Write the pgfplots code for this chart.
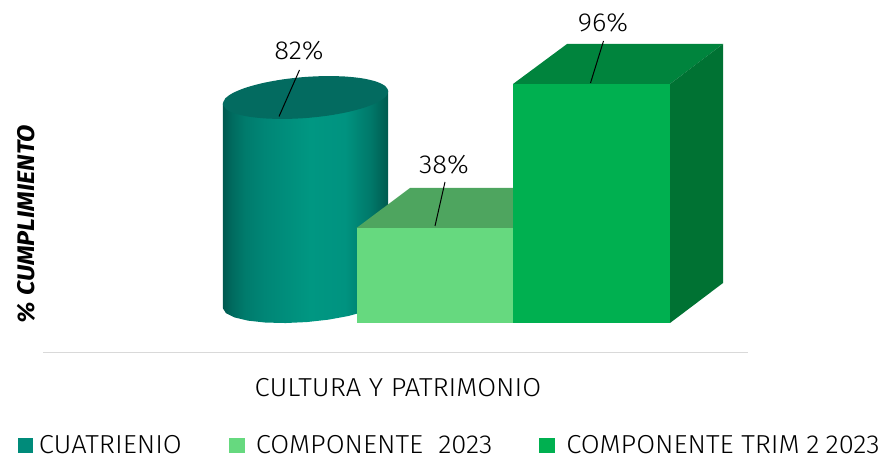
\documentclass[border=0pt]{standalone}
\usepackage{fontspec}
\setmainfont{Fira Sans}[UprightFont=* Light,BoldItalicFont=* Bold Italic,FakeStretch=1.053]
\usepackage{pgfplots}
\pgfplotsset{compat=1.18}
\definecolor{ca}{HTML}{00594F}\definecolor{cb}{HTML}{006B5F}\definecolor{cc}{HTML}{007B6C}
\definecolor{cd}{HTML}{008676}\definecolor{ce}{HTML}{009782}\definecolor{cf}{HTML}{009380}
\definecolor{cg}{HTML}{00796A}\definecolor{ch}{HTML}{005A4F}
\definecolor{cyltop}{HTML}{036B60}\definecolor{cyllegend}{HTML}{008B7A}
\definecolor{lfront}{HTML}{66D97F}\definecolor{ltop}{HTML}{4EA55F}
\definecolor{gfront}{HTML}{00B050}\definecolor{gtop}{HTML}{00843D}\definecolor{gside}{HTML}{007233}
\pgfdeclarehorizontalshading{cylbody}{100bp}{color(0bp)=(ca);color(25bp)=(ca);color(27.8bp)=(cb);color(31.7bp)=(cc);color(37.7bp)=(cd);color(51.4bp)=(ce);color(61.9bp)=(cf);color(69.5bp)=(cg);color(75bp)=(ch);color(100bp)=(ch)}
\newcommand{\fs}{\fontsize{26}{30}\selectfont}
\pgfplotsset{px/.style={forget plot,draw=none}}
\begin{document}
\begin{tikzpicture}
\begin{axis}[
  width=883pt,height=458pt,scale only axis,
  xmin=0,xmax=883,ymin=-54.2169,ymax=129.7189,
  axis line style={draw=none},ticks=none,clip=false,
  xlabel={\fs CULTURA Y PATRIMONIO},
  xlabel style={at={(axis description cs:0.4507,0.1528)},anchor=center,inner sep=0pt},
  ylabel={\fontsize{24}{28}\selectfont\bfseries\itshape \% CUMPLIMIENTO},
  ylabel style={at={(axis description cs:0.02944,0.5109)},anchor=center,inner sep=0pt},
  legend columns=3,
  legend style={at={(axis description cs:0.0204,0.0273)},anchor=west,draw=none,fill=none,inner sep=0pt,outer sep=0pt,
    font=\fs,/tikz/every even column/.append style={column sep=47pt},
    /tikz/every odd column/.append style={column sep=0pt},
    nodes={inner sep=0pt,outer sep=0pt}},
  legend cell align=left,
]
% base line
\addplot[forget plot,color=black!15,line width=1.6pt] table[x=x,y expr=(323-\thisrow{y})/2.49]{
x y
43 352.5
748 352.5
};
% cylinder body (value 82)
\addplot[px,shade,shading=cylbody] table[x=x,y expr=(323-\thisrow{y})/2.49]{
x y
222.76 104.02
388.24 90.98
388.24 295.08
385.84 300.59
377.96 306.17
365.14 311.44
348.26 316.04
328.49 319.65
307.11 322.04
285.63 323.03
265.52 322.56
248.14 320.66
234.65 317.47
226.00 313.19
222.76 308.12
222.76 104.02
};
% cylinder top
\addplot[px,fill=cyltop,smooth] table[x=x,y expr=(323-\thisrow{y})/2.49]{
x y
222.76 104.02
226.00 109.09
234.65 113.37
248.14 116.56
265.52 118.46
285.63 118.93
307.11 117.94
328.49 115.55
348.26 111.94
365.14 107.34
377.96 102.07
385.84 96.49
388.24 90.98
385.00 85.91
376.35 81.63
362.86 78.44
345.48 76.54
325.37 76.07
303.89 77.06
282.51 79.45
262.74 83.06
245.86 87.66
233.04 92.93
225.16 98.51
222.76 104.02
};
% light box top
\addplot[px,fill=ltop] table[x=x,y expr=(323-\thisrow{y})/2.49]{
x y
356.5 228
410 188
513 188
513 228
356.5 228
};
\addplot[forget plot,ybar,bar shift=0pt,bar width=156.5,fill=lfront,draw=none] coordinates {(434.75,38)};
% dark box top and side
\addplot[px,fill=gtop] table[x=x,y expr=(323-\thisrow{y})/2.49]{
x y
513 84
567 44
723 44
670 84
513 84
};
\addplot[px,fill=gside] table[x=x,y expr=(323-\thisrow{y})/2.49]{
x y
670 84
723 44
723 283
670 323
670 84
};
\addplot[forget plot,ybar,bar shift=0pt,bar width=157,fill=gfront,draw=none] coordinates {(591.5,96)};
% leader lines
\addplot[forget plot,black,line width=1pt] table[x=x,y expr=(323-\thisrow{y})/2.49]{
x y
299.5 70
279 116.5
};
\addplot[forget plot,black,line width=1pt] table[x=x,y expr=(323-\thisrow{y})/2.49]{
x y
445 182
435 226
};
\addplot[forget plot,black,line width=1pt] table[x=x,y expr=(323-\thisrow{y})/2.49]{
x y
603.5 41
590.5 83
};
\node[font=\fs,inner sep=0pt] at (axis cs:299,109.2) {82\%};
\node[font=\fs,inner sep=0pt] at (axis cs:444,63.5) {38\%};
\node[font=\fs,inner sep=0pt] at (axis cs:603,120.5) {96\%};
% legend
\addlegendimage{legend image code/.code={\fill[cyllegend] (0pt,-7pt) rectangle (14pt,7pt);}}
\addlegendentry{\hspace{6.5pt}CUATRIENIO\hspace{1.5pt}}
\addlegendimage{legend image code/.code={\fill[lfront] (0pt,-7pt) rectangle (15pt,7pt);}}
\addlegendentry{\hspace{11.5pt}COMPONENTE\ \ 2023}
\addlegendimage{legend image code/.code={\fill[gfront] (0pt,-7pt) rectangle (15pt,7pt);}}
\addlegendentry{\hspace{11.5pt}COMPONENTE TRIM\hspace{-1pt} 2\hspace{-1.5pt} 2023}
\end{axis}
\end{tikzpicture}
\end{document}
